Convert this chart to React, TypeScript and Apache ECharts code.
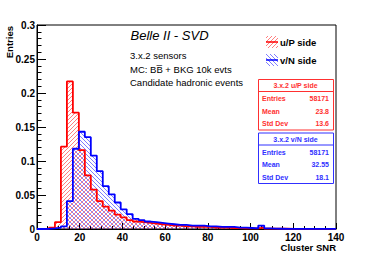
import { useEffect, useRef } from 'react';
import * as echarts from 'echarts';

// Histogram binning (50 bins from 0 to 140)
const X_MIN = 0;
const X_MAX = 140;
const BIN_WIDTH = 2.8;

// Normalised bin contents (Entries)
const uPSide = [
  0, 0.0005, 0.002, 0.01, 0.121, 0.217, 0.171, 0.116, 0.079, 0.058,
  0.041, 0.033, 0.027, 0.021, 0.017, 0.013, 0.011, 0.01, 0.009, 0.008,
  0.007, 0.006, 0.005, 0.005, 0.004, 0.004, 0.003, 0.003, 0.003, 0.002,
  0.002, 0.002, 0.0015, 0.0015, 0.001, 0.001, 0.001, 0.002, 0.0005, 0.0005,
  0.0004, 0.0004, 0.0003, 0.0003, 0.0003, 0.0002, 0.0002, 0.0002, 0.0001, 0.0001,
];
const vNSide = [
  0, 0.0003, 0.001, 0.002, 0.004, 0.041, 0.118, 0.143, 0.135, 0.108,
  0.085, 0.063, 0.051, 0.039, 0.029, 0.022, 0.015, 0.013, 0.011, 0.01,
  0.009, 0.008, 0.007, 0.006, 0.006, 0.005, 0.005, 0.005, 0.004, 0.004,
  0.003, 0.003, 0.003, 0.002, 0.002, 0.0015, 0.001, 0.005, 0.001, 0.0005,
  0.0004, 0.0003, 0.0003, 0.0003, 0.0002, 0.0002, 0.0002, 0.0001, 0.0001, 0.0001,
];

const seriesNames = ['u/P side', 'v/N side'];
const statTitles = ['3.x.2 u/P side', '3.x.2 v/N side'];
const statLabels = ['Entries', 'Mean', 'Std Dev'];
const uPStats = ['58171', '23.8', '13.6'];
const vNStats = ['58171', '32.55', '18.1'];
const headline = 'Belle II - SVD';
const infoLines = ['3.x.2 sensors', 'MC: BB\u0305 + BKG 10k evts', 'Candidate hadronic events'];
const xTitle = 'Cluster SNR';
const yTitle = 'Entries';

const FONT = '"Liberation Sans", Arial, Helvetica, sans-serif';

function hatchPattern(color: string, dir: 1 | -1) {
  const s = 4;
  const c = document.createElement('canvas');
  c.width = s;
  c.height = s;
  const ctx = c.getContext('2d')!;
  ctx.strokeStyle = color;
  ctx.lineWidth = 1;
  ctx.beginPath();
  for (const k of [-s, 0, s]) {
    if (dir === 1) {
      ctx.moveTo(k, s);
      ctx.lineTo(k + s, 0);
    } else {
      ctx.moveTo(k, 0);
      ctx.lineTo(k + s, s);
    }
  }
  ctx.stroke();
  return { image: c.toDataURL(), repeat: 'repeat', imageWidth: s, imageHeight: s } as any;
}

function toSteps(values: number[]) {
  const pts: number[][] = values.map((v, i) => [X_MIN + i * BIN_WIDTH, v]);
  pts.push([X_MAX, values[values.length - 1]]);
  return pts;
}

function statsBox(x: number, y: number, w: number, color: string, title: string, vals: string[]) {
  const children: any[] = [
    { type: 'rect', shape: { x: x + 0.5, y: y + 0.5, width: w, height: 50.5 }, style: { fill: '#fff', stroke: color, lineWidth: 1 } },
    { type: 'line', shape: { x1: x + 0.5, y1: y + 12.5, x2: x + w + 0.5, y2: y + 12.5 }, style: { stroke: color, lineWidth: 1 } },
    { type: 'text', style: { text: title, x: x + w / 2, y: y + 6.5, align: 'center', verticalAlign: 'middle', font: `bold 7px ${FONT}`, fill: color } },
  ];
  statLabels.forEach((lab, i) => {
    const yy = y + 19.5 + i * 12.5;
    children.push({ type: 'text', style: { text: lab, x: x + 4, y: yy, align: 'left', verticalAlign: 'middle', font: `bold 7px ${FONT}`, fill: color } });
    children.push({ type: 'text', style: { text: vals[i], x: x + w - 4, y: yy, align: 'right', verticalAlign: 'middle', font: `bold 7px ${FONT}`, fill: color } });
  });
  return children;
}

export default function App() {
  const ref = useRef<HTMLDivElement>(null);
  useEffect(() => {
    if (!ref.current) return;
    const chart = echarts.init(ref.current, null, { renderer: 'svg' });
    const redHatch = hatchPattern('rgba(255,0,0,0.5)', 1);
    const blueHatch = hatchPattern('rgba(0,0,255,0.5)', -1);

    const graphic: any[] = [
      { type: 'text', style: { text: headline, x: 130.5, y: 35.5, align: 'left', verticalAlign: 'middle', font: `italic 13px ${FONT}`, fill: '#000' } },
      ...infoLines.map((t, i) => ({
        type: 'text',
        style: { text: t, x: 130, y: 55.5 + i * 13.5, align: 'left', verticalAlign: 'middle', font: `9.5px ${FONT}`, fill: '#000' },
      })),
      // legend
      { type: 'rect', shape: { x: 266, y: 36, width: 12, height: 12 }, style: { fill: redHatch, stroke: 'none' } },
      { type: 'line', shape: { x1: 266, y1: 42, x2: 278, y2: 42 }, style: { stroke: '#ff0000', lineWidth: 1.5 } },
      { type: 'text', style: { text: seriesNames[0], x: 280, y: 42, align: 'left', verticalAlign: 'middle', font: `bold 9.5px ${FONT}`, fill: '#000' } },
      { type: 'rect', shape: { x: 266, y: 54, width: 12, height: 12 }, style: { fill: blueHatch, stroke: 'none' } },
      { type: 'line', shape: { x1: 266, y1: 60, x2: 278, y2: 60 }, style: { stroke: '#0000ff', lineWidth: 1.5 } },
      { type: 'text', style: { text: seriesNames[1], x: 280, y: 60, align: 'left', verticalAlign: 'middle', font: `bold 9.5px ${FONT}`, fill: '#000' } },
      // stats boxes
      ...statsBox(258, 79, 75, '#ff3030', statTitles[0], uPStats),
      ...statsBox(258, 132.5, 75, '#3030ff', statTitles[1], vNStats),
      // axis titles
      { type: 'text', style: { text: xTitle, x: 336, y: 247.5, align: 'right', verticalAlign: 'middle', font: `bold 9.5px ${FONT}`, fill: '#000' } },
      { type: 'text', rotation: Math.PI / 2, x: 9.5, y: 26, style: { text: yTitle, x: 0, y: 0, align: 'right', verticalAlign: 'middle', font: `bold 9.5px ${FONT}`, fill: '#000' } },
    ];

    chart.setOption({
      animation: false,
      backgroundColor: '#fff',
      grid: {
        left: 37, top: 25, width: 299, height: 204,
        show: true, borderColor: '#000', borderWidth: 1, backgroundColor: '#fff',
        containLabel: false, outerBoundsMode: 'none',
      },
      xAxis: {
        type: 'value', min: X_MIN, max: X_MAX, interval: 20,
        axisLine: { show: true, lineStyle: { color: '#000', width: 1 } },
        axisTick: { show: true, inside: true, length: 6, lineStyle: { color: '#000' } },
        minorTick: { show: true, splitNumber: 4, length: 3, lineStyle: { color: '#000' } },
        splitLine: { show: false },
        axisLabel: { color: '#000', fontFamily: FONT, fontWeight: 'bold', fontSize: 10, margin: 3, showMinLabel: true, showMaxLabel: true },
      },
      yAxis: {
        type: 'value', min: 0, max: 0.3, interval: 0.05,
        axisLine: { show: true, lineStyle: { color: '#000', width: 1 } },
        axisTick: { show: true, inside: true, length: 9, lineStyle: { color: '#000' } },
        minorTick: { show: true, splitNumber: 5, length: 4.5, lineStyle: { color: '#000' } },
        splitLine: { show: false },
        axisLabel: {
          color: '#000', fontFamily: FONT, fontWeight: 'bold', fontSize: 10, margin: 2,
          showMinLabel: true, showMaxLabel: true,
          formatter: (v: number) => String(+v.toFixed(2)),
        },
      },
      series: [
        {
          name: seriesNames[0], type: 'line', step: 'end', data: toSteps(uPSide),
          symbol: 'none', lineStyle: { color: '#ff0000', width: 1.8 }, itemStyle: { color: '#ff0000' },
          areaStyle: { color: redHatch, opacity: 1 }, clip: true,
        },
        {
          name: seriesNames[1], type: 'line', step: 'end', data: toSteps(vNSide),
          symbol: 'none', lineStyle: { color: '#0000ff', width: 1.8 }, itemStyle: { color: '#0000ff' },
          areaStyle: { color: blueHatch, opacity: 1 }, clip: true,
        },
      ],
      graphic,
    });
    return () => chart.dispose();
  }, []);
  return <div ref={ref} style={{ width: 374, height: 255, position: 'absolute', left: 0, top: 0 }} />;
}
